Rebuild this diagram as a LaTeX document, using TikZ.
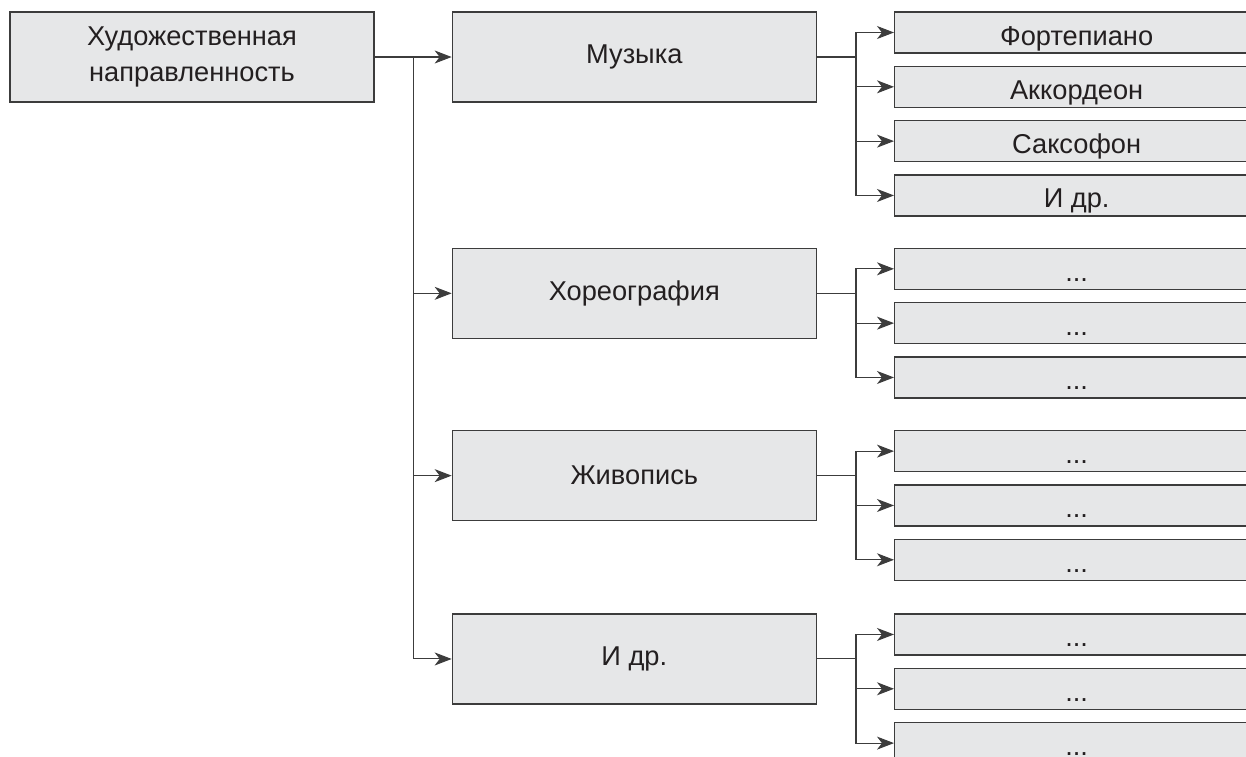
\documentclass[tikz,border=0pt]{standalone}
\usepackage{fontspec}
\setmainfont{Liberation Sans}
\usepackage{tikz}
\usetikzlibrary{arrows.meta,positioning}

\definecolor{boxfill}{HTML}{E6E7E8}
\definecolor{boxline}{HTML}{3C3C3C}
\definecolor{txt}{HTML}{231F20}

\begin{document}
\begin{tikzpicture}[
  node distance=2.9cm and 1.54cm,
  box/.style={draw=boxline, fill=boxfill, line width=0.75pt, align=center, minimum height=1.8cm, minimum width=7.28cm, inner sep=0pt, text=txt, font=\fontsize{15.5}{20.5}\selectfont},
  leaf/.style={box, minimum height=0.82cm, text height=0.5cm, text depth=0pt},
  arr/.style={-{Stealth[length=3.4mm, width=2.6mm, inset=1mm]}, line width=0.6pt, draw=boxline},
  lnk/.style={line width=0.6pt, draw=boxline},
]
  \useasboundingbox (0,0) rectangle (24.92,-15.12);

  % Main column
  \node[box] (root) at (3.84,-1.14) {Художественная\\направленность};
  \node[box, right=of root] (mus) {Музыка};
  \node[box, below=of mus] (chor) {Хореография};
  \node[box, below=1.82cm of chor] (paint) {Живопись};
  \node[box, below=1.84cm of paint] (etc) {И др.};

  \coordinate[right=0.78cm of root] (jr);
  \draw[arr] (root) -- (mus);
  \draw[arr] (jr) |- (chor);
  \draw[arr] (jr) |- (paint);
  \draw[arr] (jr) |- (etc);

  % Music
  \node[leaf, right=of mus.north east, anchor=north west] (mus1) {Фортепиано};
  \node[leaf, below=0.24cm of mus1] (mus2) {Аккордеон};
  \node[leaf, below=0.24cm of mus2] (mus3) {Саксофон};
  \node[leaf, below=0.24cm of mus3] (mus4) {И др.};

  \coordinate[right=0.78cm of mus] (jm);
  \draw[lnk] (mus) -- (jm);
  \draw[arr] (jm) |- (mus1);
  \draw[arr] (jm) |- (mus2);
  \draw[arr] (jm) |- (mus3);
  \draw[arr] (jm) |- (mus4);

  % Choreography
  \node[leaf, right=of chor.north east, anchor=north west] (chor1) {...};
  \node[leaf, below=0.24cm of chor1] (chor2) {...};
  \node[leaf, below=0.24cm of chor2] (chor3) {...};

  \coordinate[right=0.78cm of chor] (jc);
  \draw[lnk] (chor) -- (jc);
  \draw[arr] (jc) |- (chor1);
  \draw[arr] (jc) |- (chor2);
  \draw[arr] (jc) |- (chor3);

  % Painting
  \node[leaf, right=of paint.north east, anchor=north west] (paint1) {...};
  \node[leaf, below=0.24cm of paint1] (paint2) {...};
  \node[leaf, below=0.24cm of paint2] (paint3) {...};

  \coordinate[right=0.78cm of paint] (jp);
  \draw[lnk] (paint) -- (jp);
  \draw[arr] (jp) |- (paint1);
  \draw[arr] (jp) |- (paint2);
  \draw[arr] (jp) |- (paint3);

  % Other
  \node[leaf, right=of etc.north east, anchor=north west] (etc1) {...};
  \node[leaf, below=0.24cm of etc1] (etc2) {...};
  \node[leaf, below=0.24cm of etc2] (etc3) {...};

  \coordinate[right=0.78cm of etc] (je);
  \draw[lnk] (etc) -- (je);
  \draw[arr] (je) |- (etc1);
  \draw[arr] (je) |- (etc2);
  \draw[arr] (je) |- (etc3);
\end{tikzpicture}
\end{document}
